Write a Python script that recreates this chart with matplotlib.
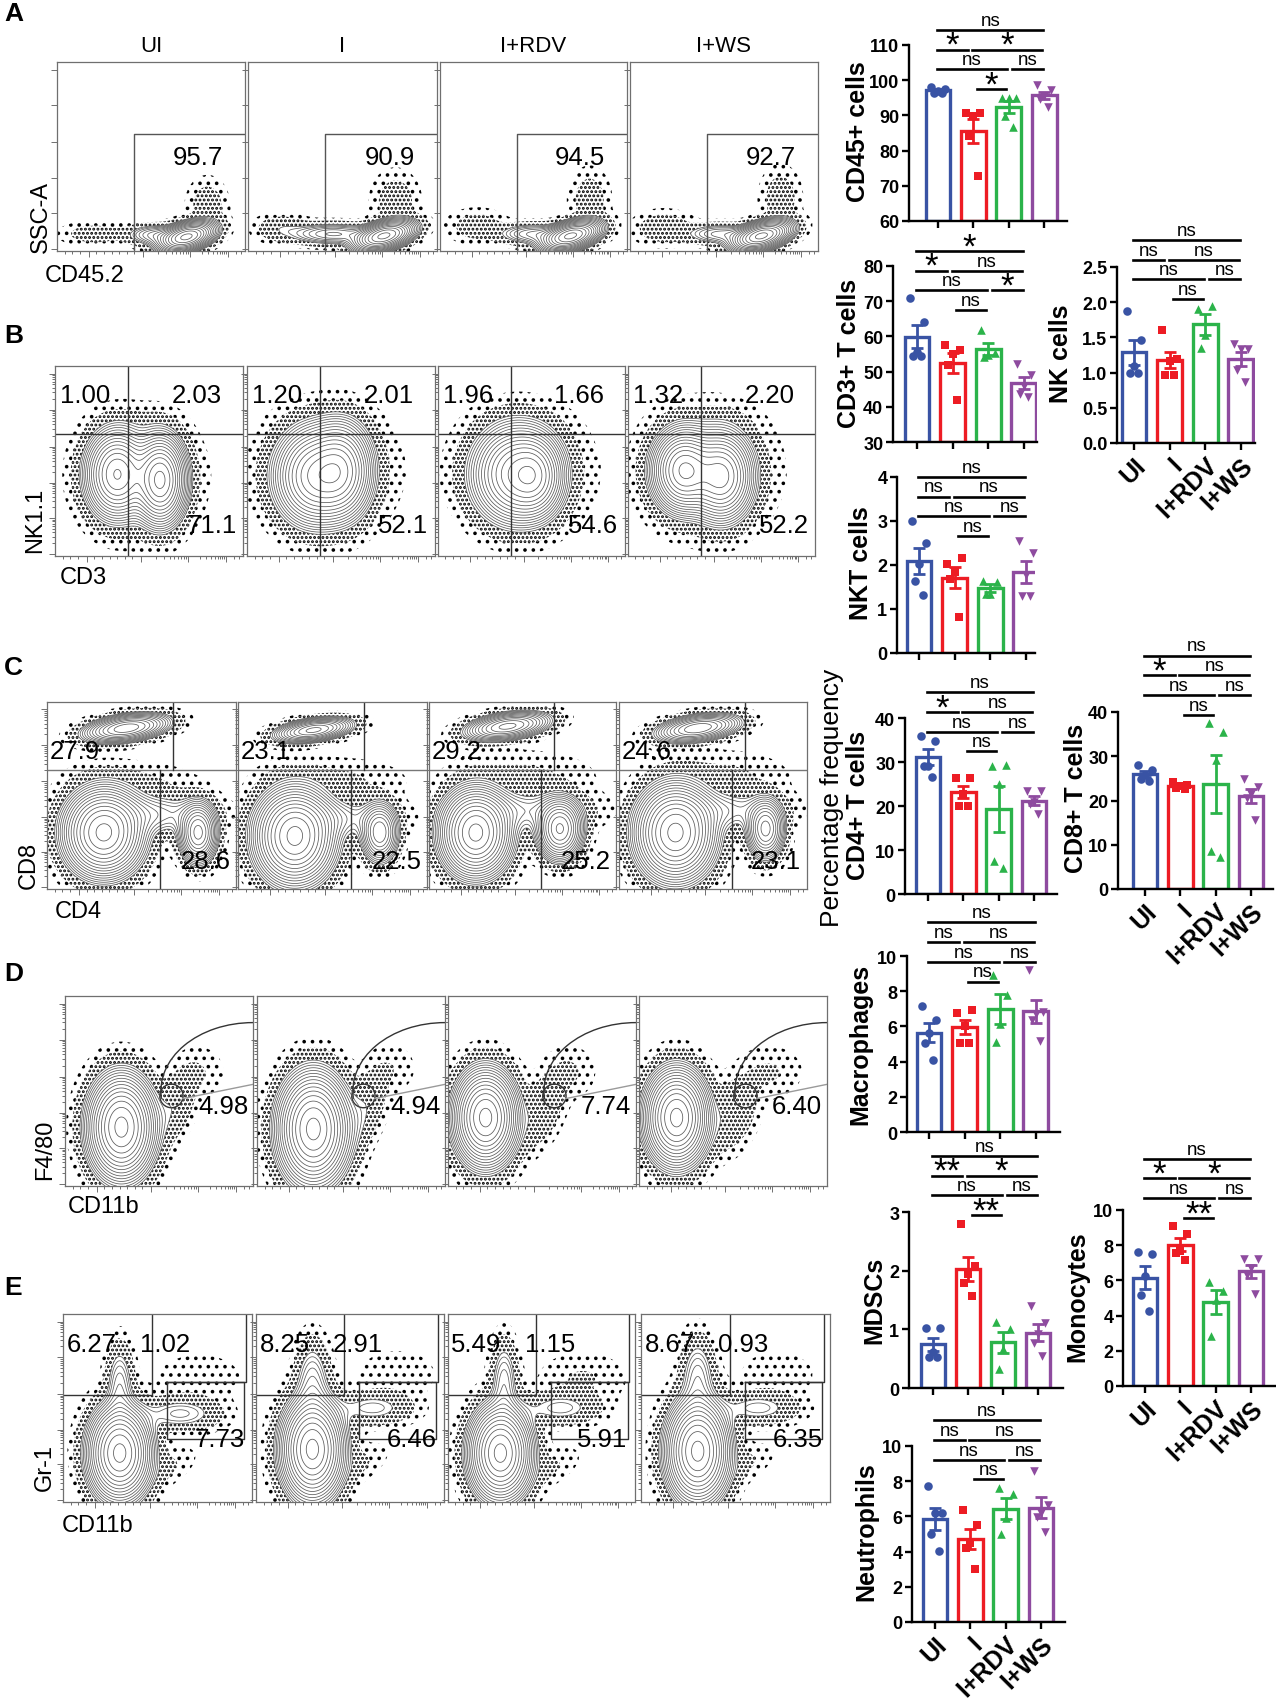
import numpy as np
import matplotlib
matplotlib.use('Agg')
import matplotlib.pyplot as plt
from matplotlib import transforms
from matplotlib.patches import Arc, Circle

plt.rcParams['font.family'] = ['Liberation Sans', 'DejaVu Sans']
plt.rcParams['hatch.color'] = 'black'
plt.rcParams['hatch.linewidth'] = 1.4

W, H = 1276, 1699

GROUPS = ['UI', 'I', 'I+RDV', 'I+WS']
COLORS = ['#3953a4', '#ed1c24', '#2bb34a', '#8e4b9f']
MARKERS = ['o', 's', '^', 'v']

# ---- bar chart values (% frequency), one list per group: UI, I, I+RDV, I+WS
cd45 = [[98.0, 97.5, 97.0, 96.5, 96.5], [90.8, 90.8, 89.8, 84.1, 72.8],
        [95.0, 95.0, 95.0, 89.8, 86.7], [98.5, 97.2, 95.5, 94.6, 92.5]]
cd3 = [[71.0, 64.0, 55.5, 54.5, 54.5], [57.5, 56.0, 55.0, 52.0, 42.0],
       [61.8, 55.2, 54.7, 54.2], [52.2, 49.0, 46.0, 43.5, 42.8]]
nk = [[1.88, 1.46, 1.09, 1.0, 1.0], [1.6, 1.19, 1.17, 0.96, 0.96],
      [1.91, 1.94, 1.54, 1.35], [1.40, 1.34, 1.33, 1.03, 0.86]]
nkt = [[3.0, 2.5, 2.03, 1.63, 1.31], [2.03, 2.16, 1.84, 1.69, 0.82],
       [1.64, 1.61, 1.33, 1.33], [2.54, 2.27, 1.78, 1.30, 1.30]]
cd4 = [[35.9, 34.7, 29.1, 29.1, 26.7], [26.3, 26.3, 22.8, 20.1, 20.1],
       [29.1, 29.3, 25.0, 7.6, 5.8], [23.3, 23.3, 20.9, 20.5, 18.2]]
cd8 = [[28.1, 27.0, 25.8, 24.9, 24.5], [24.2, 23.4, 23.2, 22.9, 22.7],
       [37.6, 35.5, 29.1, 8.7, 7.2], [24.9, 23.0, 21.5, 20.5, 15.6]]
macro = [[7.14, 6.34, 5.63, 5.06, 4.07], [6.76, 6.91, 6.0, 5.08, 5.08],
         [8.94, 7.77, 6.16, 5.11], [9.22, 6.82, 6.72, 6.34, 5.15]]
mdsc = [[1.02, 1.02, 0.61, 0.53, 0.53], [2.79, 2.08, 1.94, 1.79, 1.57],
        [1.13, 1.0, 0.67, 0.33], [1.40, 1.10, 0.92, 0.77, 0.54]]
mono = [[7.62, 7.49, 6.26, 5.17, 4.28], [9.09, 8.62, 7.68, 7.58, 7.17],
        [5.89, 5.42, 4.9, 2.83], [7.2, 7.2, 6.7, 6.3, 5.2]]
neut = [[7.73, 6.21, 6.2, 4.98, 4.03], [6.34, 5.49, 4.51, 4.22, 2.99],
        [7.63, 7.25, 5.93, 4.98], [8.58, 6.63, 6.2, 5.98, 5.11]]

# significance: I vs RDV, UI vs RDV, RDV vs WS, UI vs I, I vs WS, UI vs WS
sig_cd45 = ['*', 'ns', 'ns', '*', '*', 'ns']
sig_cd3 = ['ns', 'ns', '*', '*', 'ns', '*']
sig_ns = ['ns', 'ns', 'ns', 'ns', 'ns', 'ns']
sig_cd4 = ['ns', 'ns', 'ns', '*', 'ns', 'ns']
sig_mdsc = ['**', 'ns', 'ns', '**', '*', 'ns']
sig_mono = ['**', 'ns', 'ns', '*', '*', 'ns']

# ---- flow gate percentages
a_gate = ['95.7', '90.9', '94.5', '92.7']
b_ul = ['1.00', '1.20', '1.96', '1.32']
b_ur = ['2.03', '2.01', '1.66', '2.20']
b_lr = ['71.1', '52.1', '54.6', '52.2']
c_ul = ['27.9', '23.1', '29.2', '24.6']
c_lr = ['28.6', '22.5', '25.2', '23.1']
d_gate = ['4.98', '4.94', '7.74', '6.40']
e_ul = ['6.27', '8.25', '5.49', '8.67']
e_ur = ['1.02', '2.91', '1.15', '0.93']
e_lr = ['7.73', '6.46', '5.91', '6.35']

# population shapes (cx, cy, sx, sy, weight, angle) in panel fractions
blobs_a = [
    [(0.69, 0.075, 0.075, 0.035, 1.0, 15), (0.52, 0.085, 0.08, 0.03, 0.12, 0),
     (0.2, 0.09, 0.1, 0.035, 0.02, 0), (0.8, 0.24, 0.06, 0.08, 0.02, 0)],
    [(0.72, 0.08, 0.08, 0.035, 1.0, 15), (0.45, 0.09, 0.12, 0.03, 0.15, 0),
     (0.18, 0.12, 0.08, 0.04, 0.03, 0), (0.78, 0.26, 0.07, 0.09, 0.02, 0)],
    [(0.7, 0.08, 0.08, 0.035, 1.0, 15), (0.5, 0.09, 0.1, 0.03, 0.12, 0),
     (0.2, 0.13, 0.09, 0.05, 0.02, 0), (0.8, 0.27, 0.06, 0.09, 0.02, 0)],
    [(0.7, 0.08, 0.08, 0.035, 1.0, 15), (0.48, 0.09, 0.1, 0.03, 0.1, 0),
     (0.18, 0.12, 0.09, 0.05, 0.025, 0), (0.8, 0.28, 0.06, 0.09, 0.02, 0)],
]
blobs_b = [
    [(0.33, 0.43, 0.08, 0.11, 0.75, 0), (0.56, 0.4, 0.065, 0.11, 1.0, 0),
     (0.45, 0.42, 0.17, 0.17, 0.03, 0), (0.42, 0.68, 0.12, 0.05, 0.006, 0)],
    [(0.36, 0.42, 0.1, 0.12, 0.9, 0), (0.5, 0.45, 0.08, 0.12, 0.8, 0),
     (0.42, 0.45, 0.2, 0.18, 0.03, 0), (0.42, 0.68, 0.13, 0.05, 0.006, 0)],
    [(0.42, 0.43, 0.11, 0.12, 1.0, 0), (0.52, 0.42, 0.07, 0.1, 0.6, 0),
     (0.45, 0.45, 0.2, 0.18, 0.03, 0), (0.45, 0.7, 0.14, 0.05, 0.006, 0)],
    [(0.3, 0.45, 0.08, 0.1, 0.9, 0), (0.5, 0.42, 0.08, 0.11, 0.75, 0),
     (0.42, 0.45, 0.19, 0.18, 0.03, 0), (0.42, 0.7, 0.14, 0.05, 0.006, 0)],
]
blobs_c = [
    [(0.42, 0.86, 0.11, 0.035, 0.55, 8), (0.3, 0.3, 0.1, 0.11, 1.0, 0), (0.8, 0.3, 0.05, 0.08, 0.5, 0),
     (0.55, 0.4, 0.18, 0.06, 0.08, 0), (0.45, 0.56, 0.2, 0.07, 0.012, 0)],
    [(0.4, 0.85, 0.1, 0.03, 0.5, 8), (0.3, 0.28, 0.1, 0.12, 1.0, 0), (0.75, 0.3, 0.05, 0.08, 0.35, 0),
     (0.5, 0.38, 0.18, 0.06, 0.06, 0), (0.5, 0.58, 0.22, 0.07, 0.012, 0)],
    [(0.42, 0.87, 0.11, 0.035, 0.5, 8), (0.25, 0.3, 0.09, 0.11, 1.0, 0), (0.7, 0.32, 0.06, 0.08, 0.6, 0),
     (0.5, 0.42, 0.2, 0.06, 0.06, 0), (0.5, 0.6, 0.22, 0.08, 0.012, 0)],
    [(0.42, 0.86, 0.11, 0.035, 0.45, 8), (0.3, 0.3, 0.1, 0.12, 1.0, 0), (0.78, 0.32, 0.05, 0.08, 0.4, 0),
     (0.55, 0.42, 0.18, 0.06, 0.06, 0), (0.55, 0.6, 0.2, 0.08, 0.012, 0)],
]
blobs_d = [
    [(0.3, 0.31, 0.085, 0.13, 1.0, 0), (0.58, 0.42, 0.06, 0.12, 0.03, -20), (0.72, 0.6, 0.08, 0.08, 0.008, 0)],
    [(0.3, 0.3, 0.09, 0.14, 1.0, 0), (0.57, 0.4, 0.06, 0.13, 0.03, -20), (0.72, 0.62, 0.08, 0.08, 0.007, 0)],
    [(0.2, 0.36, 0.08, 0.12, 1.0, 0), (0.5, 0.4, 0.06, 0.12, 0.03, -20), (0.65, 0.6, 0.08, 0.08, 0.01, 0)],
    [(0.2, 0.36, 0.08, 0.12, 1.0, 0), (0.5, 0.38, 0.07, 0.12, 0.03, -20), (0.7, 0.6, 0.1, 0.08, 0.01, 0)],
]
blobs_e = [
    [(0.3, 0.26, 0.08, 0.12, 1.0, 0), (0.3, 0.62, 0.04, 0.12, 0.08, 0), (0.62, 0.47, 0.12, 0.05, 0.06, 0),
     (0.72, 0.66, 0.14, 0.08, 0.008, 0), (0.55, 0.18, 0.1, 0.05, 0.01, 30)],
    [(0.3, 0.28, 0.08, 0.13, 1.0, 0), (0.3, 0.64, 0.05, 0.12, 0.08, 0), (0.62, 0.5, 0.12, 0.05, 0.05, 0),
     (0.75, 0.68, 0.13, 0.08, 0.008, 0), (0.55, 0.2, 0.1, 0.05, 0.01, 30)],
    [(0.28, 0.26, 0.08, 0.12, 1.0, 0), (0.3, 0.64, 0.04, 0.12, 0.08, 0), (0.6, 0.5, 0.12, 0.05, 0.05, 0),
     (0.72, 0.66, 0.14, 0.08, 0.01, 0), (0.55, 0.18, 0.1, 0.05, 0.01, 30)],
    [(0.3, 0.27, 0.08, 0.13, 1.0, 0), (0.3, 0.66, 0.05, 0.12, 0.08, 0), (0.62, 0.5, 0.12, 0.05, 0.05, 0),
     (0.72, 0.68, 0.13, 0.08, 0.007, 0), (0.55, 0.2, 0.1, 0.05, 0.01, 30)],
]

fig = plt.figure(figsize=(W / 100, H / 100), dpi=100)


def px_axes(l, t, r, b):
    return fig.add_axes([l / W, 1 - b / H, (r - l) / W, (b - t) / H])


def ftext(x, y, s, **kw):
    fig.text(x / W, 1 - y / H, s, **kw)


# ---------------- flow plots ----------------
GATE_C = '#333333'
XT_MAJ = [0.17, 0.46, 0.71, 0.91]
XT_MIN = [0.04, 0.08, 0.12, 0.21, 0.25, 0.29, 0.33, 0.37, 0.41] + \
    [a + (b - a) * np.log10(k) for a, b in [(0.46, 0.71), (0.71, 0.91)] for k in range(2, 10)] + [0.95, 0.98]
YT_MAJ = [0.01, 0.2, 0.385, 0.575, 0.77, 0.96]
YT_MIN = [a + (b - a) * np.log10(k) for a, b in zip(YT_MAJ[:-1], YT_MAJ[1:]) for k in range(2, 10)]


def flow_panel(l, t, r, b, blobs, logy=True):
    ax = px_axes(l, t, r, b)
    ax.set_xlim(0, 1)
    ax.set_ylim(0, 1)
    g = np.linspace(0, 1, 260)
    X, Y = np.meshgrid(g, g)
    Z = np.zeros_like(X)
    for cx, cy, sx, sy, w, th in blobs:
        a = np.deg2rad(th)
        dx = (X - cx) * np.cos(a) + (Y - cy) * np.sin(a)
        dy = -(X - cx) * np.sin(a) + (Y - cy) * np.cos(a)
        Z += w * np.exp(-0.5 * ((dx / sx) ** 2 + (dy / sy) ** 2))
    Z /= Z.max()
    ax.contourf(X, Y, Z, levels=[0.0025, 0.009, 0.035], colors='none', hatches=['..', '....'])
    ax.contour(X, Y, Z, levels=np.geomspace(0.035, 0.92, 15), colors='#5a5a5a', linewidths=0.55)
    for sp in ax.spines.values():
        sp.set_color('#6f6f6f')
        sp.set_linewidth(0.9)
    ax.set_xticks(XT_MAJ)
    ax.set_xticks(XT_MIN, minor=True)
    ax.set_yticks(YT_MAJ)
    ax.set_yticks(YT_MIN if logy else [], minor=True)
    ax.tick_params(which='both', direction='out', colors='#6f6f6f', labelleft=False,
                   labelbottom=False, width=0.7)
    ax.tick_params(which='major', length=4)
    ax.tick_params(which='minor', length=2)
    return ax


def gline(ax, xs, ys, **kw):
    ax.plot(xs, ys, color=kw.pop('color', GATE_C), lw=kw.pop('lw', 1.0), **kw)


NUM_FS = 18.5
row_y = {'A': (63, 252), 'B': (367, 557), 'C': (703, 890), 'D': (997, 1187), 'E': (1315, 1503)}
row_x = {'A': [(57, 245), (248, 437), (440, 627), (630, 818)],
         'B': [(55, 243), (247, 435), (438, 625), (628, 815)],
         'C': [(47, 236), (238, 427), (429, 616), (619, 807)],
         'D': [(65, 253), (257, 445), (448, 636), (639, 827)],
         'E': [(63, 252), (256, 444), (448, 635), (641, 830)]}

for i in range(4):
    # A: CD45.2 vs SSC-A
    (l, r), (t, b) = row_x['A'][i], row_y['A']
    ax = flow_panel(l, t, r, b, blobs_a[i], logy=False)
    gline(ax, [0.41, 0.41, 1.0], [0.0, 0.62, 0.62], color='#555555')
    ax.text(0.75, 0.5, a_gate[i], fontsize=NUM_FS, ha='center', va='center')
    ftext((l + r) / 2, 46, GROUPS[i], fontsize=16, ha='center', va='center')

    # B: CD3 vs NK1.1
    (l, r), (t, b) = row_x['B'][i], row_y['B']
    ax = flow_panel(l, t, r, b, blobs_b[i])
    gline(ax, [0.39, 0.39], [0, 1])
    gline(ax, [0, 1], [0.643, 0.643])
    ax.text(0.025, 0.845, b_ul[i], fontsize=NUM_FS, ha='left', va='center')
    ax.text(0.89, 0.845, b_ur[i], fontsize=NUM_FS, ha='right', va='center')
    ax.text(0.965, 0.165, b_lr[i], fontsize=NUM_FS, ha='right', va='center')

    # C: CD4 vs CD8
    (l, r), (t, b) = row_x['C'][i], row_y['C']
    ax = flow_panel(l, t, r, b, blobs_c[i])
    gline(ax, [0, 1], [0.637, 0.637], color='#777777')
    gline(ax, [0.668, 0.668], [0.637, 1])
    gline(ax, [0.6, 0.6], [0, 0.637])
    ax.text(0.015, 0.74, c_ul[i], fontsize=NUM_FS, ha='left', va='center')
    ax.text(0.97, 0.15, c_lr[i], fontsize=NUM_FS, ha='right', va='center')

    # D: CD11b vs F4/80
    (l, r), (t, b) = row_x['D'][i], row_y['D']
    ax = flow_panel(l, t, r, b, blobs_d[i])
    ax.add_patch(Arc((1.0, 0.5), 0.98, 0.72, theta1=90, theta2=185, color=GATE_C, lw=1.0))
    ax.add_patch(Circle((0.566, 0.474), 0.062, fill=False, color=GATE_C, lw=1.0))
    gline(ax, [0.626, 1.0], [0.46, 0.535], color='#9a9a9a')
    ax.text(0.975, 0.42, d_gate[i], fontsize=NUM_FS, ha='right', va='center')

    # E: CD11b vs Gr-1
    (l, r), (t, b) = row_x['E'][i], row_y['E']
    ax = flow_panel(l, t, r, b, blobs_e[i])
    gline(ax, [0, 0.47, 0.47], [0.57, 0.57, 1.0])
    gline(ax, [0.55, 0.97, 0.97], [0.636, 0.636, 1.0])
    gline(ax, [0.55, 0.55, 0.96, 0.96, 0.55], [0.636, 0.336, 0.336, 0.636, 0.636])
    ax.text(0.018, 0.84, e_ul[i], fontsize=NUM_FS, ha='left', va='center')
    ax.text(0.41, 0.84, e_ur[i], fontsize=NUM_FS, ha='left', va='center')
    ax.text(0.96, 0.335, e_lr[i], fontsize=NUM_FS, ha='right', va='center')

# flow axis titles and panel letters
LAB_FS = 17
ftext(41, 217, 'SSC-A', rotation=90, fontsize=LAB_FS, ha='center', va='center')
ftext(45, 276, 'CD45.2', fontsize=LAB_FS, ha='left', va='center')
ftext(35, 520, 'NK1.1', rotation=90, fontsize=LAB_FS, ha='center', va='center')
ftext(60, 578, 'CD3', fontsize=LAB_FS, ha='left', va='center')
ftext(29, 865, 'CD8', rotation=90, fontsize=LAB_FS, ha='center', va='center')
ftext(55, 912, 'CD4', fontsize=LAB_FS, ha='left', va='center')
ftext(45, 1150, 'F4/80', rotation=90, fontsize=LAB_FS, ha='center', va='center')
ftext(68, 1207, 'CD11b', fontsize=LAB_FS, ha='left', va='center')
ftext(45, 1468, 'Gr-1', rotation=90, fontsize=LAB_FS, ha='center', va='center')
ftext(62, 1526, 'CD11b', fontsize=LAB_FS, ha='left', va='center')
for letter, y in [('A', 14), ('B', 336), ('C', 668), ('D', 974), ('E', 1288)]:
    ftext(4, y, letter, fontsize=19, fontweight='bold', ha='left', va='center')

# ---------------- bar charts ----------------
OFFSETS = np.array([-0.2, 0.2, 0.0, -0.12, 0.12])
SPANS = [(1.1, 1.93), (-0.03, 1.96), (2.1, 2.98), (-0.03, 0.84), (0.97, 2.95), (-0.03, 2.98)]
ROWS = [0, 1, 1, 2, 2, 3]
STEP = 0.112


def bar_chart(data, ylim, yticks, ytick_labels, L, R, c0, s, top, bot, sig, base, xlabels):
    ax = px_axes(L, top, R, bot)
    ax.set_xlim((L - c0) / s, (R - c0) / s)
    ax.set_ylim(*ylim)
    for i, vals in enumerate(data):
        v = np.array(vals)
        m = v.mean()
        sem = v.std(ddof=1) / np.sqrt(len(v))
        ax.bar(i, m - ylim[0], bottom=ylim[0], width=0.7, facecolor='white',
               edgecolor=COLORS[i], linewidth=2.4, zorder=2)
        ax.errorbar(i, m, yerr=sem, color=COLORS[i], capsize=4.5, capthick=2,
                    elinewidth=2, zorder=3)
        ax.scatter(i + OFFSETS[:len(v)], v, marker=MARKERS[i], color=COLORS[i],
                   s=38, zorder=4, clip_on=False, linewidths=0)
    for sp in ['top', 'right']:
        ax.spines[sp].set_visible(False)
    for sp in ['left', 'bottom']:
        ax.spines[sp].set_linewidth(1.7)
    ax.set_yticks(yticks)
    ax.set_yticklabels(ytick_labels, fontsize=13, fontweight='bold')
    ax.set_xticks(range(4))
    if xlabels:
        ax.set_xticklabels(GROUPS, rotation=45, ha='right', rotation_mode='anchor',
                           fontsize=18, fontweight='bold')
    else:
        ax.set_xticklabels([])
    ax.tick_params(direction='out', width=1.7, length=5, pad=2)
    trans = transforms.blended_transform_factory(ax.transData, ax.transAxes)
    for (x0, x1), row, lab in zip(SPANS, ROWS, sig):
        y = base + row * STEP
        ax.plot([x0, x1], [y, y], transform=trans, color='black', lw=1.9, clip_on=False)
        if lab == 'ns':
            ax.text((x0 + x1) / 2, y + 0.006, lab, transform=trans, fontsize=13.5,
                    ha='center', va='bottom')
        else:
            ax.text((x0 + x1) / 2, y - 0.03, lab, transform=trans, fontsize=25,
                    ha='center', va='baseline')
    return ax


bar_chart(cd45, (60, 110), [60, 70, 80, 90, 100, 110], ['60', '70', '80', '90', '100', '110'],
          909, 1067, 938, 35.4, 46, 222, sig_cd45, 0.75, False)
bar_chart(cd3, (30, 80), [30, 40, 50, 60, 70, 80], ['30', '40', '50', '60', '70', '80'],
          893, 1037, 917, 35.6, 267, 443, sig_cd3, 0.75, False)
bar_chart(nk, (0, 2.5), [0, 0.5, 1.0, 1.5, 2.0, 2.5], ['0.0', '0.5', '1.0', '1.5', '2.0', '2.5'],
          1117, 1255, 1134, 35.6, 268, 444, sig_ns, 0.818, True)
bar_chart(nkt, (0, 4), [0, 1, 2, 3, 4], ['0', '1', '2', '3', '4'],
          897, 1035, 919, 35.6, 478, 654, sig_ns, 0.665, False)
bar_chart(cd4, (0, 40), [0, 10, 20, 30, 40], ['0', '10', '20', '30', '40'],
          905, 1057, 928, 35.3, 719, 895, sig_cd4, 0.81, False)
bar_chart(cd8, (0, 40), [0, 10, 20, 30, 40], ['0', '10', '20', '30', '40'],
          1118, 1273, 1145, 35.3, 713, 890, sig_cd4, 0.983, True)
bar_chart(macro, (0, 10), [0, 2, 4, 6, 8, 10], ['0', '2', '4', '6', '8', '10'],
          907, 1060, 929, 35.6, 957, 1133, sig_ns, 0.855, False)
bar_chart(mdsc, (0, 3), [0, 1, 2, 3], ['0', '1', '2', '3'],
          909, 1063, 933, 35.0, 1213, 1389, sig_mdsc, 0.983, False)
bar_chart(mono, (0, 10), [0, 2, 4, 6, 8, 10], ['0', '2', '4', '6', '8', '10'],
          1123, 1275, 1145, 35.3, 1211, 1387, sig_mono, 0.955, True)
bar_chart(neut, (0, 10), [0, 2, 4, 6, 8, 10], ['0', '2', '4', '6', '8', '10'],
          912, 1065, 935, 35.3, 1447, 1623, sig_ns, 0.81, True)

YL_FS = 18
for x, y, s in [(858, 132, 'CD45+ cells'), (849, 353, 'CD3+ T cells'), (1061, 354, 'NK cells'),
                (861, 563, 'NKT cells'), (858, 805, 'CD4+ T cells'), (1076, 798, 'CD8+ T cells'),
                (860, 1044, 'Macrophages'), (874, 1300, 'MDSCs'), (1077, 1297, 'Monocytes'),
                (866, 1532, 'Neutrophils')]:
    ftext(x, y, s, rotation=90, fontsize=YL_FS, fontweight='bold', ha='center', va='center')
ftext(832, 798, 'Percentage frequency', rotation=90, fontsize=19, ha='center', va='center')

fig.savefig('out.png', dpi=100)
